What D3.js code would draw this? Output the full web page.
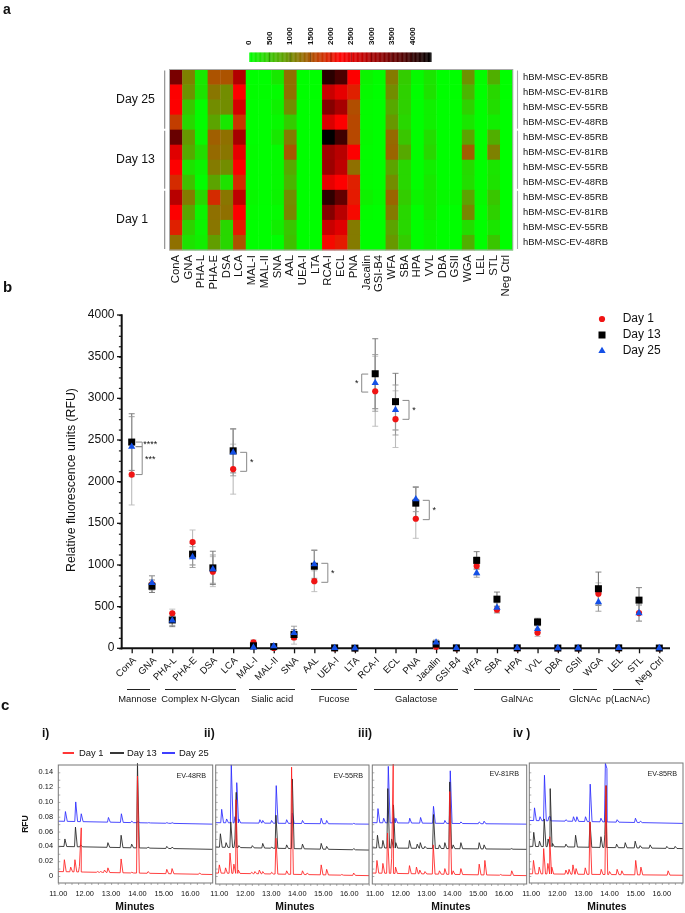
<!DOCTYPE html>
<html><head><meta charset="utf-8">
<script src="https://cdn.jsdelivr.net/npm/d3@7/dist/d3.min.js"></script>
<style>html,body{margin:0;padding:0;background:#fff}svg{display:block;filter:blur(.3px)}text{font-family:"Liberation Sans",Arial,sans-serif;fill:#111}</style>
</head><body><svg id="c" width="685" height="913"></svg>
<script>
// ---------- panel a ----------
const lectins=["ConA","GNA","PHA-L","PHA-E","DSA","LCA","MAL-I","MAL-II","SNA","AAL","UEA-I","LTA","RCA-I","ECL","PNA","Jacalin","GSI-B4","WFA","SBA","HPA","VVL","DBA","GSII","WGA","LEL","STL","Neg Ctrl"];
const rowLabels=["hBM-MSC-EV-85RB","hBM-MSC-EV-81RB","hBM-MSC-EV-55RB","hBM-MSC-EV-48RB"];
const heatDay25=[
[3400,1100,200,1500,1500,2900,0,0,200,1250,0,0,4100,3800,2250,100,20,1150,450,40,230,0,0,950,30,700,0],
[2250,950,250,1200,1000,2250,20,20,30,1250,0,0,2700,2450,1950,50,0,1000,400,0,250,0,0,650,0,350,0],
[2250,500,30,1000,1000,2600,0,0,120,1000,0,0,3300,3000,1550,30,0,750,400,0,130,0,0,400,0,300,0],
[1700,350,30,800,200,1750,0,0,50,450,0,0,2550,2250,1600,30,0,900,350,0,130,0,0,220,0,150,0]];
const heatDay13=[
[3550,900,80,1400,1250,3000,0,0,200,1150,0,0,4460,3900,1600,50,0,1300,500,0,300,0,0,800,0,700,0],
[2500,750,300,1300,1200,2450,30,0,30,1450,0,0,3050,2850,2250,30,0,1350,750,0,350,0,0,1400,0,1100,0],
[2250,250,100,1150,1000,2250,0,0,50,750,0,0,3100,2800,1250,30,0,800,350,0,150,0,0,320,0,230,0],
[1850,550,20,800,250,1850,0,0,50,650,0,0,2450,2250,1950,30,0,1000,350,0,200,0,0,300,0,250,0]];
const heatDay1=[
[2850,1150,350,1850,1200,2800,60,10,100,1000,0,0,4050,3600,2000,120,40,1350,450,100,200,50,50,800,40,500,0],
[2250,800,100,1250,1250,2250,30,0,30,1050,0,0,3300,2850,2150,30,0,1150,350,0,200,0,0,1050,0,400,0],
[1950,400,100,1200,350,2000,0,0,150,500,0,0,2700,2500,1150,0,0,800,350,0,100,0,0,300,0,230,0],
[1250,250,150,850,350,1500,0,0,0,550,0,0,2150,2000,1150,0,0,900,450,0,100,0,0,700,0,500,0]];
const heatDays=["Day 25","Day 13","Day 1"];
const colorTicks=[0,500,1000,1500,2000,2500,3000,3500,4000];

// ---------- panel b ----------
const scatterLectins=lectins;
const meanDay1 =[2085,770,420,1275,920,2150,70,5,130,805,0,0,3085,2750,1555,20,0,988,463,0,187,0,0,655,0,423,0];
const meanDay13=[2475,745,340,1130,965,2370,30,20,165,985,5,2,3295,2960,1742,50,5,1055,590,5,315,3,3,715,5,578,3];
const meanDay25=[2420,785,335,1095,950,2350,10,25,185,1010,5,2,3185,2860,1790,70,5,903,487,5,232,3,3,555,5,423,3];
const errDay1  =[365,100,50,145,180,300,30,10,80,125,0,0,420,340,235,30,0,110,40,0,45,0,0,130,0,100,0];
const errDay13 =[340,75,80,130,200,265,25,10,60,190,5,2,420,340,190,30,5,105,85,5,45,3,3,200,5,150,3];
const errDay25 =[360,85,60,125,170,280,20,10,80,170,5,2,340,300,150,30,5,50,60,5,45,3,3,110,5,95,3];
const groups=[["Mannose","ConA","GNA"],["Complex N-Glycan","PHA-L","LCA"],["Sialic acid","MAL-I","SNA"],["Fucose","AAL","LTA"],["Galactose","RCA-I","GSI-B4"],["GalNAc","WFA","GSII"],["GlcNAc","WGA","WGA"],["p(LacNAc)","LEL","Neg Ctrl"]];
const groupBars=[[127,150],[165,236],[249,295],[311,357],[374,458],[474,560],[573,597],[613,643]];
const brackets=[["ConA",2475,2420,"****",1,0],["ConA",2420,2085,"***",1,1],["LCA",2352,2124,"*",1,0],["AAL",1020,792,"*",1,0],["RCA-I",3291,3075,"*",-1,0],["ECL",2975,2748,"*",1,0],["PNA",1776,1544,"*",1,0]];
const yMajor=[0,500,1000,1500,2000,2500,3000,3500,4000];

// ---------- panel c : apex [minutes, RFU] ----------
const p1Red=[[11.23,.022],[11.47,.012],[11.63,.022],[11.8,.013],[11.87,.065],[12.48,.006],[12.6,.006],[12.75,.008],[12.88,.011],[13.38,.023],[13.78,.005],[14.0,.135],[14.4,.006],[15.11,.009],[15.31,.010],[16.35,.004]];
const p1Black=[[11.25,.05],[11.65,.066],[11.85,.042],[12.88,.045],[13.38,.055],[13.78,.043],[14.0,.152],[14.4,.039],[15.11,.04],[15.31,.039]];
const p1Blue=[[11.27,.087],[11.66,.1],[11.87,.084],[12.9,.079],[13.39,.084],[13.78,.074],[14.02,.074],[14.42,.072],[15.11,.072],[15.31,.072]];
const p2Red=[[11.0,.015],[11.24,.011],[11.41,.031],[11.56,.016],[11.64,.103],[11.73,.008],[12.24,.005],[12.37,.006],[12.54,.008],[12.67,.006],[13.01,.005],[13.18,.051],[13.59,.007],[13.78,.147],[14.2,.007],[14.38,.004],[14.92,.015],[15.13,.009],[15.71,.002],[16.17,.004]];
const p2Black=[[11.04,.057],[11.26,.045],[11.44,.073],[11.6,.05],[11.65,.113],[11.75,.041],[12.27,.041],[12.67,.044],[13.01,.039],[13.18,.082],[13.59,.042],[13.81,.131],[14.2,.043],[14.92,.044],[15.13,.04],[16.17,.037]];
const p2Blue=[[11.09,.09],[11.28,.077],[11.46,.15],[11.6,.08],[11.67,.126],[11.75,.077],[12.56,.076],[12.67,.075],[13.01,.075],[13.19,.122],[13.59,.076],[13.81,.085],[14.2,.075],[14.92,.078],[15.13,.075],[16.17,.071]];
const p3Red=[[11.08,.021],[11.31,.017],[11.49,.058],[11.65,.024],[11.71,.151],[11.8,.012],[12.34,.014],[12.61,.012],[12.74,.008],[12.94,.006],[13.26,.042],[13.5,.007],[13.71,.01],[13.9,.114],[14.03,.007],[14.33,.01],[15.04,.016],[15.26,.021],[15.86,.002],[16.3,.007]];
const p3Black=[[11.1,.055],[11.31,.048],[11.5,.118],[11.65,.05],[11.72,.096],[11.81,.045],[12.34,.048],[12.64,.043],[12.76,.045],[12.94,.04],[13.27,.083],[13.5,.042],[13.71,.045],[13.9,.127],[14.03,.042],[14.33,.045],[15.04,.045],[15.23,.042],[16.28,.037]];
const p3Blue=[[11.12,.091],[11.34,.078],[11.52,.148],[11.72,.08],[11.81,.078],[12.35,.078],[12.77,.079],[13.27,.094],[13.71,.075],[13.92,.142],[14.33,.073],[15.04,.073],[15.23,.074]];
const p4Red=[[11.09,.021],[11.31,.012],[11.48,.037],[11.64,.017],[11.71,.053],[11.79,.012],[12.33,.008],[12.45,.009],[12.6,.015],[12.72,.01],[13.07,.011],[13.25,.073],[13.68,.009],[13.86,.122],[14.0,.006],[14.29,.009],[14.47,.007],[15.0,.021],[15.2,.012],[16.24,.007]];
const p4Black=[[11.1,.059],[11.32,.047],[11.5,.077],[11.65,.05],[11.73,.118],[11.82,.044],[12.33,.043],[12.7,.055],[13.25,.073],[13.67,.053],[13.82,.056],[13.87,.122],[14.27,.043],[14.6,.045],[14.98,.047],[15.17,.041],[15.55,.042],[16.19,.04],[16.51,.04]];
const p4Blue=[[11.13,.092],[11.34,.08],[11.51,.136],[11.68,.08],[11.74,.08],[12.33,.076],[12.62,.08],[12.75,.08],[13.08,.08],[13.26,.124],[13.67,.078],[13.84,.152],[13.9,.145],[14.29,.076],[14.99,.078],[15.18,.074]];
const panelNames=["EV-48RB","EV-55RB","EV-81RB","EV-85RB"];
const panelNums=["i)","ii)","iii)","iv )"];
const baseRed=[[.006,.002],[.004,.0005],[.004,.0005],[.003,.001]];
const baseBlack=[[.04,.036],[.039,.035],[.038,.036],[.04,.037]];
const baseBlue=[[.074,.07],[.072,.07],[.072,.07],[.075,.071]];
const rfuTicks=[0,.02,.04,.06,.08,.10,.12,.14];
const minuteTicks=[11,12,13,14,15,16];

const svg=d3.select("#c");
const T=(x,y,s,o={})=>{const t=svg.append("text").attr("x",x).attr("y",y).text(s).attr("font-size",o.size||10).attr("text-anchor",o.anchor||"start").attr("dominant-baseline","middle");
  if(o.bold)t.attr("font-weight","bold"); if(o.rot!=null)t.attr("transform",`rotate(${o.rot} ${x} ${y})`); return t;};
const L=(g,x1,y1,x2,y2,c,w)=>g.append("line").attr("x1",x1).attr("y1",y1).attr("x2",x2).attr("y2",y2).attr("stroke",c).attr("stroke-width",w);

T(3,10,"a",{size:14,bold:true});T(3,288,"b",{size:15,bold:true});T(1,706,"c",{size:15,bold:true});

// heatmap
const heat=heatDay25.concat(heatDay13,heatDay1);
const color=d3.scaleLinear().domain([0,2230,4460]).range(["#00ff00","#ff0000","#000000"]);
const hx=d3.scaleBand().domain(lectins).range([169.5,512.7]);
const hy=d3.scaleBand().domain(d3.range(12)).range([69.5,250]);
const gh=svg.append("g");
heat.forEach((r,i)=>gh.selectAll(null).data(r).join("rect").attr("x",(d,j)=>hx(lectins[j])).attr("y",hy(i)).attr("width",hx.bandwidth()+.4).attr("height",hy.bandwidth()+.4).attr("fill",d=>color(d)));
gh.append("rect").attr("x",169.5).attr("y",69.5).attr("width",343.2).attr("height",180.5).attr("fill","none").attr("stroke","#aaa").attr("stroke-width",1);
lectins.forEach(l=>T(hx(l)+hx.bandwidth()/2,255,l,{size:11.3,anchor:"end",rot:-90}));
heat.forEach((r,i)=>T(523,hy(i)+hy.bandwidth()/2,rowLabels[i%4],{size:9.4}));
heatDays.forEach((d,k)=>{
  const y0=hy(k*4)+1,y1=hy(k*4+3)+hy.bandwidth()-1;
  L(svg,164.7,y0,164.7,y1,"#888",1.1);L(svg,517.5,y0,517.5,y1,"#aaa",1.1);
  T(116,(y0+y1)/2,d,{size:12.3});
});
// colour key
const kx=d3.scaleLinear().domain([0,500]).range([249.3,269.7]);
const kMax=kx.invert(431);
svg.append("g").selectAll("rect").data(d3.range(0,kMax,20)).join("rect").attr("x",d=>kx(d)).attr("y",52.5).attr("width",1.1).attr("height",9.5).attr("fill",d=>color(d));
colorTicks.forEach(v=>{if(v)L(svg,kx(v),52.5,kx(v),62,"#000",.6).attr("opacity",.45);
  T(kx(v),45,v,{size:8,bold:true,anchor:"start",rot:-90});});

// scatter
const sx=d3.scalePoint().domain(scatterLectins).range([131.7,659.3]);
const sy=d3.scaleLinear().domain([0,4000]).range([648.3,315]);
const ga=svg.append("g");
const ya=ga.append("g").attr("transform","translate(121.7,0)").call(d3.axisLeft(sy).tickValues(d3.range(0,4001,125)).tickSize(2.8).tickFormat(""));
ya.select(".domain").remove();
ya.selectAll("line").attr("stroke","#222").attr("stroke-width",1.2);
yMajor.forEach(v=>{L(ga,117,sy(v),121.7,sy(v),"#111",1.3);T(114.5,sy(v),v,{size:12,anchor:"end"});});
L(ga,121.7,314.3,121.7,649.3,"#111",2);
const xa=ga.append("g").attr("transform","translate(0,648.3)").call(d3.axisBottom(sx).tickSize(5).tickFormat(""));
xa.select(".domain").remove();xa.selectAll("line").attr("stroke","#111").attr("stroke-width",1.3);
L(ga,120.7,648.3,670,648.3,"#111",2);
scatterLectins.forEach(l=>T(sx(l)+3,659,l,{size:9.6,anchor:"end",rot:-45}));
T(72,480,"Relative fluorescence units (RFU)",{size:12.3,anchor:"middle",rot:-90});

const series=[{m:meanDay1,e:errDay1,c:"#bbb"},{m:meanDay13,e:errDay13,c:"#777"},{m:meanDay25,e:errDay25,c:"#999"}];
series.forEach(s=>s.m.forEach((v,i)=>{ if(!s.e[i])return;
  const x=sx(scatterLectins[i]),a=sy(v+s.e[i]),b=sy(Math.max(0,v-s.e[i]));
  L(ga,x,a,x,b,s.c,1.1);L(ga,x-3,a,x+3,a,s.c,.9);L(ga,x-3,b,x+3,b,s.c,.9);
}));
const sym={tri:d3.symbol().type(d3.symbolTriangle).size(23)()};
const mark=(g,kind,x,y)=>{
  if(kind===0)g.append("circle").attr("cx",x).attr("cy",y).attr("r",3.1).attr("fill","#f01414");
  else if(kind===1)g.append("rect").attr("x",x-3.5).attr("y",y-3.5).attr("width",7).attr("height",7).attr("fill","#000");
  else g.append("path").attr("d",sym.tri).attr("transform",`translate(${x},${y})`).attr("fill","#1450e6");
};
[meanDay1,meanDay13,meanDay25].forEach((arr,k)=>arr.forEach((v,i)=>mark(ga,k,sx(scatterLectins[i]),sy(v))));
brackets.forEach(([l,hi,lo,st,side,lvl])=>{
  const x=sx(l),inner=x+side*(st.length>1?4:7),outer=x+side*(st.length>1?10.5:13.5);
  ga.append("path").attr("d",`M${inner},${sy(hi)}H${outer}V${sy(lo)}H${inner}`).attr("fill","none").attr("stroke","#888").attr("stroke-width",1);
  const sxp=st.length>1?x+18.5:x+side*18.5;
  T(sxp,st==="****"?444.5:(st==="***"?460:(sy(hi)+sy(lo))/2+1),st,{size:9,anchor:"middle",bold:false});
});
groups.forEach((g,i)=>{const [a,b]=groupBars[i];L(svg,a,689.5,b,689.5,"#222",1);T((a+b)/2+(i===0?-1:0),699.5,g[0],{size:9.4,anchor:"middle"});});
[319,335,351].forEach((y,k)=>{mark(svg,k,602,y);T(622.7,y,["Day 1","Day 13","Day 25"][k],{size:12});});

// chromatograms
const panels=[
 {r:[58.3,212.7],t:[11,16.85],top:765,bot:883,d:[p1Red,p1Black,p1Blue]},
 {r:[215.7,369],t:[10.86,16.76],top:765,bot:884,d:[p2Red,p2Black,p2Blue]},
 {r:[372.3,526.7],t:[10.9,16.88],top:765,bot:884,d:[p3Red,p3Black,p3Blue]},
 {r:[529.3,683],t:[10.93,16.81],top:763,bot:883,d:[p4Red,p4Black,p4Blue]}];
const numX=[42,204,358,513],minX=[135,295,451,607],nameX=[206,363,519,677],nameY=[776,776,774,774];
const ry=d3.scaleLinear().domain([0,.14]).range([876,772.3]);
const colors=["#ff2020","#222222","#2a2aff"];
const trace=(peaks,base,t)=>{
  const bl=d3.scaleLinear().domain(t).range(base);
  const pts=[[t[0],base[0]]];
  peaks.forEach(([p,v])=>{
    const before=p-.035,after=p+.07;
    if(before>pts[pts.length-1][0])pts.push([before,bl(before)]);
    pts.push([p,v]);pts.push([after,bl(after)]);
  });
  pts.push([t[1],base[1]]);
  return pts.sort((a,b)=>a[0]-b[0]);
};
panels.forEach((p,i)=>{
  const x=d3.scaleLinear().domain(p.t).range(p.r);
  const g=svg.append("g");
  const line=d3.line().x(d=>x(d[0])).y(d=>ry(d[1]));
  [[2,baseBlue],[1,baseBlack],[0,baseRed]].forEach(([k,b])=>{
    g.append("path").attr("d",line(trace(p.d[k],b[i],p.t))).attr("fill","none").attr("stroke",colors[k]).attr("stroke-width",1).attr("stroke-opacity",.85).attr("stroke-linejoin","round");
  });
  g.append("rect").attr("x",p.r[0]).attr("y",p.top).attr("width",p.r[1]-p.r[0]).attr("height",p.bot-p.top).attr("fill","none").attr("stroke","#777").attr("stroke-width",1);
  const xa=g.append("g").attr("transform",`translate(0,${p.bot})`).call(d3.axisBottom(x).tickValues(d3.range(11,p.t[1],.25)).tickSize(2).tickFormat(""));
  xa.select(".domain").remove();xa.selectAll("line").attr("stroke","#777").attr("stroke-width",.6);
  minuteTicks.forEach(m=>T(x(m),894,d3.format(".2f")(m),{size:7.4,anchor:"middle"}));
  const ya=g.append("g").attr("transform",`translate(${p.r[0]},0)`).call(d3.axisRight(ry).tickValues(d3.range(0,.1401,.01)).tickSize(2).tickFormat(""));
  ya.select(".domain").remove();ya.selectAll("line").attr("stroke","#777").attr("stroke-width",.6);
  T(nameX[i],nameY[i],panelNames[i],{size:7.2,anchor:"end"}).style("fill","#222");
  T(numX[i],734,panelNums[i],{size:12,bold:true});
  T(minX[i],907.5,"Minutes",{size:10.4,bold:true,anchor:"middle"});
});
rfuTicks.forEach(v=>T(53,ry(v),v===0?"0":d3.format(".2f")(v),{size:7.4,anchor:"end"}));
T(26,824,"RFU",{size:8.6,bold:true,anchor:"middle",rot:-90});
[[62.7,74,79,"Day 1",0],[110,124,127,"Day 13",1],[162,175,179,"Day 25",2]].forEach(([a,b,tx,s,k])=>{
  L(svg,a,753,b,753,colors[k],1.8);T(tx,753.5,s,{size:9.4});
});
</script></body></html>
